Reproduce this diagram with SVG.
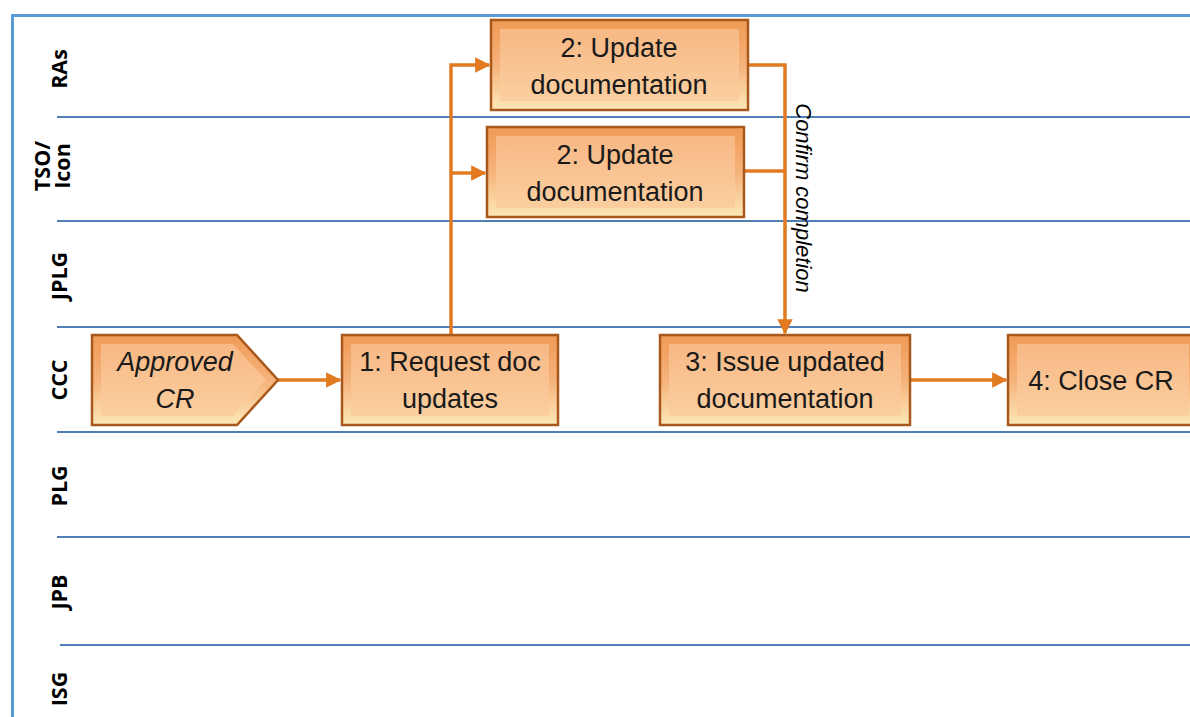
<svg xmlns="http://www.w3.org/2000/svg" width="1190" height="717" viewBox="0 0 1190 717">
<defs>
<linearGradient id="outer" x1="0" y1="0" x2="0" y2="1">
<stop offset="0" stop-color="#f09a55"/>
<stop offset="0.5" stop-color="#f5b27a"/>
<stop offset="1" stop-color="#fde8b8"/>
</linearGradient>
<linearGradient id="inner" x1="0" y1="0" x2="0" y2="1">
<stop offset="0" stop-color="#f7b884"/>
<stop offset="1" stop-color="#fbcfa0"/>
</linearGradient>
<marker id="arr" viewBox="0 0 10 10" refX="9" refY="5" markerWidth="4.4" markerHeight="4.4" orient="auto" markerUnits="strokeWidth">
<path d="M0,0 L10,5 L0,10 z" fill="#e27a22"/>
</marker>
</defs>
<style>
.lane{stroke:#4f7fb5;stroke-width:2;fill:none}
.frame{stroke:#5b9bd5;stroke-width:3;fill:none}
.lbl{font-family:"Open Sans","Liberation Sans",Arial,sans-serif;font-weight:bold;font-size:21.5px;fill:#000}
.box{fill:url(#outer);stroke:#a9581c;stroke-width:2.5}
.face{fill:url(#inner)}
.txt{font-family:"Liberation Sans",Arial,sans-serif;font-size:27px;fill:#1a1a1a;text-anchor:middle}
.it{font-style:italic}
.conn{stroke:#e27a22;stroke-width:3.5;fill:none}
.note{font-family:"Liberation Sans",Arial,sans-serif;font-style:italic;font-size:22px;fill:#000}
</style>
<rect width="1190" height="717" fill="#ffffff"/>
<g id="frame">
<path class="frame" d="M12.5,717 V15.5 H1190"/>
</g>
<g id="lanes">
<line class="lane" x1="57" y1="117" x2="1190" y2="117"/>
<line class="lane" x1="57" y1="221" x2="1190" y2="221"/>
<line class="lane" x1="57" y1="327" x2="1190" y2="327"/>
<line class="lane" x1="57" y1="432" x2="1190" y2="432"/>
<line class="lane" x1="57" y1="537" x2="1190" y2="537"/>
<line class="lane" x1="60" y1="645" x2="1190" y2="645"/>
</g>
<g id="lane-labels">
<text class="lbl" transform="translate(67,69) rotate(-90)" text-anchor="middle">RAs</text>
<text class="lbl" transform="translate(50,166) rotate(-90)" text-anchor="middle">TSO/</text>
<text class="lbl" transform="translate(70,166) rotate(-90)" text-anchor="middle">Icon</text>
<text class="lbl" transform="translate(67,276) rotate(-90)" text-anchor="middle">JPLG</text>
<text class="lbl" transform="translate(67,380) rotate(-90)" text-anchor="middle">CCC</text>
<text class="lbl" transform="translate(67,486) rotate(-90)" text-anchor="middle">PLG</text>
<text class="lbl" transform="translate(67,592) rotate(-90)" text-anchor="middle">JPB</text>
<text class="lbl" transform="translate(67,689) rotate(-90)" text-anchor="middle">ISG</text>
</g>
<g id="connectors">
<line class="conn" x1="278" y1="380" x2="340" y2="380" marker-end="url(#arr)"/>
<path class="conn" d="M451,335 V65 H489" marker-end="url(#arr)"/>
<path class="conn" d="M451,173 H485" marker-end="url(#arr)"/>
<path class="conn" d="M749,65 H785 V333" marker-end="url(#arr)"/>
<path class="conn" d="M744,171 H785"/>
<line class="conn" x1="910" y1="380" x2="1006" y2="380" marker-end="url(#arr)"/>
<text class="note" transform="translate(796,198) rotate(90)" text-anchor="middle">Confirm completion</text>
</g>
<g id="node-approved">
<path class="box" d="M92,335 H237 L278,380 L237,425 H92 Z"/>
<path class="face" d="M101,344 H233 L266,380 L233,416 H101 Z"/>
<text class="txt it" x="175" y="371">Approved</text>
<text class="txt it" x="175" y="408">CR</text>
</g>
<g id="node-request">
<rect class="box" x="342" y="335" width="216" height="90"/>
<rect class="face" x="351" y="344" width="198" height="72"/>
<text class="txt" x="450" y="371">1: Request doc</text>
<text class="txt" x="450" y="408">updates</text>
</g>
<g id="node-ras">
<rect class="box" x="491" y="20" width="257" height="90"/>
<rect class="face" x="500" y="29" width="239" height="72"/>
<text class="txt" x="619" y="57">2: Update</text>
<text class="txt" x="619" y="94">documentation</text>
</g>
<g id="node-tso">
<rect class="box" x="487" y="127" width="257" height="90"/>
<rect class="face" x="496" y="136" width="239" height="72"/>
<text class="txt" x="615" y="164">2: Update</text>
<text class="txt" x="615" y="201">documentation</text>
</g>
<g id="node-issue">
<rect class="box" x="660" y="335" width="250" height="90"/>
<rect class="face" x="669" y="344" width="232" height="72"/>
<text class="txt" x="785" y="371">3: Issue updated</text>
<text class="txt" x="785" y="408">documentation</text>
</g>
<g id="node-close">
<rect class="box" x="1008" y="335" width="190" height="90"/>
<rect class="face" x="1017" y="344" width="172" height="72"/>
<text class="txt" x="1101" y="390">4: Close CR</text>
</g>
</svg>
